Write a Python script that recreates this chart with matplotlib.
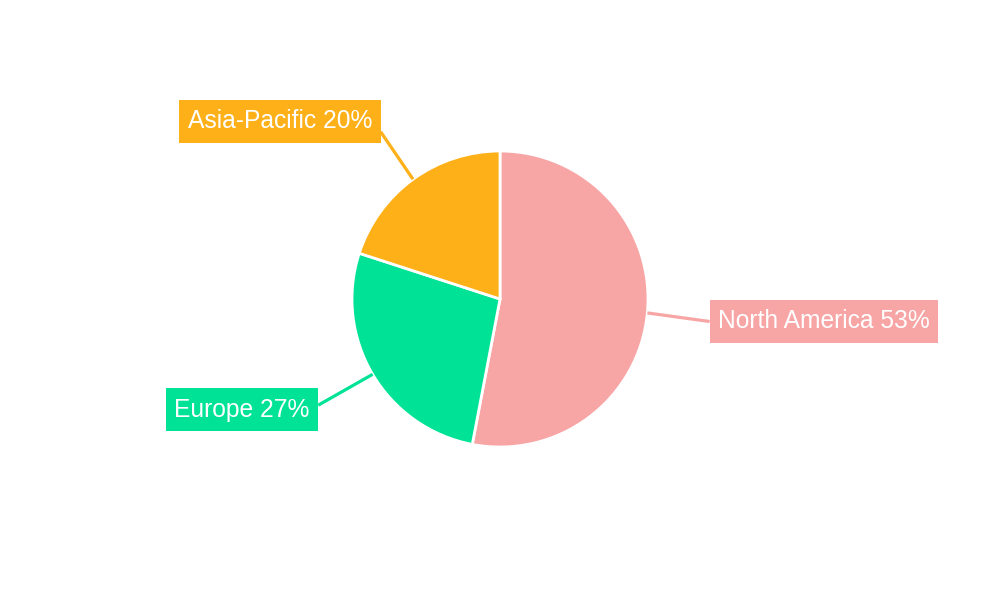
import numpy as np
import matplotlib
matplotlib.use("Agg")
import matplotlib.pyplot as plt
from matplotlib.patches import Rectangle

regions = ["North America", "Europe", "Asia-Pacific"]
shares = [53, 27, 20]
colors = ["#F8A5A5", "#00E396", "#FEB019"]
# label box centres (data coords, y up) and where the leader line meets the box (relative)
label_pos = [(824, 278.5), (242, 190.5), (280, 478.5)]
line_rel = [(0.0, 0.5), (1.0, 0.6), (1.0, 0.26)]

plt.rcParams['font.family'] = ['Liberation Sans', 'DejaVu Sans']

fig = plt.figure(figsize=(10, 6), dpi=100)
ax = fig.add_axes([0, 0, 1, 1])
center = (500, 301)
radius = 148
wedges, _ = ax.pie(shares, colors=colors, startangle=90, counterclock=False,
                   center=center, radius=radius,
                   wedgeprops=dict(edgecolor='white', linewidth=2.0))
ax.set_xlim(0, 1000)
ax.set_ylim(0, 600)
ax.set_aspect('equal')
ax.axis('off')

texts = []
for name, val, pos in zip(regions, shares, label_pos):
    t = ax.text(pos[0], pos[1], f"{name} {val}%", ha='center', va='center',
                color='white', fontsize=17.7, zorder=5)
    texts.append(t)

fig.canvas.draw()
renderer = fig.canvas.get_renderer()
inv = ax.transData.inverted()
padx, pady = 8.5, 21.5
for w, t, col, pos, rel in zip(wedges, texts, colors, label_pos, line_rel):
    bb = t.get_window_extent(renderer)
    (x0, _), (x1, _) = inv.transform([(bb.x0, bb.y0), (bb.x1, bb.y1)])
    bx0, bx1 = x0 - padx, x1 + padx
    by0, by1 = pos[1] - pady, pos[1] + pady
    ax.add_patch(Rectangle((bx0, by0), bx1 - bx0, by1 - by0, fc=col, ec='none', zorder=4))
    ang = np.deg2rad((w.theta1 + w.theta2) / 2)
    sx = center[0] + radius * np.cos(ang)
    sy = center[1] + radius * np.sin(ang)
    ex = bx0 + rel[0] * (bx1 - bx0)
    ey = by0 + rel[1] * (by1 - by0)
    ax.plot([sx, ex], [sy, ey], color=col, lw=2.3, solid_capstyle='butt', zorder=3)

fig.savefig("out.png", dpi=100)
